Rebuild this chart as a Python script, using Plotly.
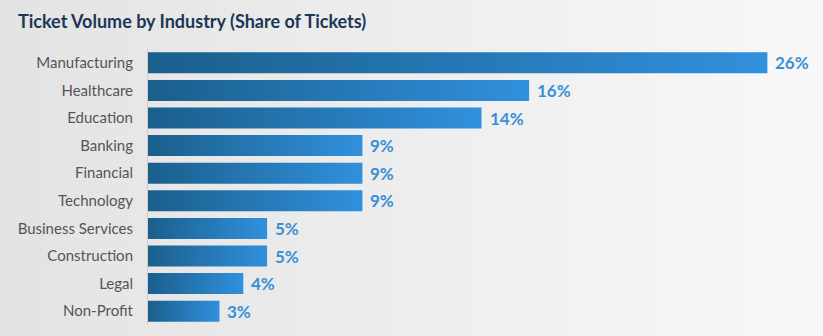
import base64
import plotly.graph_objects as go

industries = ["Manufacturing", "Healthcare", "Education", "Banking", "Financial",
              "Technology", "Business Services", "Construction", "Legal", "Non-Profit"]
shares = [26, 16, 14, 9, 9, 9, 5, 5, 4, 3]
labels = [f"{v}%" for v in shares]

W, H = 823, 336
ML, MR, MT, MB = 148, 8, 49, 11
PW, PH = W - ML - MR, H - MT - MB

BAR_HALF = 0.38
fig = go.Figure()

# background gradient over the whole figure
svg = ('<svg xmlns="http://www.w3.org/2000/svg" width="100" height="100" preserveAspectRatio="none">'
       '<defs><linearGradient id="g" x1="0" y1="0" x2="1" y2="0">'
       '<stop offset="0" stop-color="#e3e3e3"/><stop offset="1" stop-color="#f8f8f8"/>'
       '</linearGradient></defs><rect width="100" height="100" fill="url(#g)"/></svg>')
src = "data:image/svg+xml;base64," + base64.b64encode(svg.encode()).decode()
fig.add_layout_image(dict(source=src, xref="paper", yref="paper",
                          x=-ML / PW, y=1 + MT / PH,
                          sizex=W / PW, sizey=H / PH, sizing="stretch", layer="below",
                          xanchor="left", yanchor="top"))

for i, (name, v) in enumerate(zip(industries, shares)):
    fig.add_trace(go.Scatter(
        x=[0, v, v, 0, 0],
        y=[i - BAR_HALF, i - BAR_HALF, i + BAR_HALF, i + BAR_HALF, i - BAR_HALF],
        mode="lines", fill="toself", line=dict(width=0),
        fillgradient=dict(type="horizontal",
                          colorscale=[[0, "#1a5f8c"], [1, "#3190dd"]]),
        hoverinfo="skip", showlegend=False, name=name))

for i, (v, t) in enumerate(zip(shares, labels)):
    fig.add_annotation(x=v, y=i, text=f"<b>{t}</b>", showarrow=False,
                       xanchor="left", yanchor="middle", xshift=6, yshift=0,
                       font=dict(family="Lato", size=17, color="#3a8fd6"))

fig.update_layout(
    width=W, height=H,
    margin=dict(l=ML, r=MR, t=MT, b=MB),
    paper_bgcolor="rgba(0,0,0,0)", plot_bgcolor="rgba(0,0,0,0)",
    title=dict(text="<b>Ticket Volume by Industry (Share of Tickets)</b>",
               font=dict(family="Lato", size=18, color="#1b3656"),
               x=18 / W, xanchor="left", xref="container",
               y=1 - 22 / H, yanchor="middle", yref="container"),
    xaxis=dict(range=[0, 28], visible=False, fixedrange=True),
    yaxis=dict(range=[len(industries) - 0.5, -0.5], tickvals=list(range(len(industries))),
               ticktext=industries, showgrid=False, zeroline=False,
               showline=True, linecolor="#cfcfcf", linewidth=1,
               ticks="", ticklabelstandoff=11,
               tickfont=dict(family="Lato", size=15, color="#555555")),
)

fig.write_html("out.html")
